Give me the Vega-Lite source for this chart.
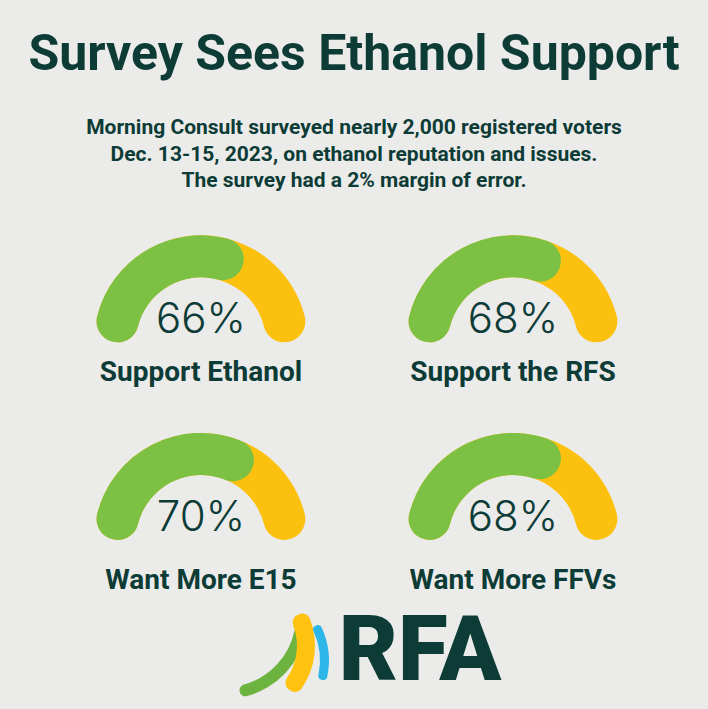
{
  "$schema": "https://vega.github.io/schema/vega-lite/v6.json",
  "width": 708,
  "height": 709,
  "autosize": {"type": "fit", "contains": "padding"},
  "padding": {"top": 30, "left": 0, "right": 0, "bottom": 0},
  "background": "#ebebea",
  "config": {"view": {"stroke": null}},
  "title": {
    "text": "Survey Sees Ethanol Support",
    "subtitle": [
      "Morning Consult surveyed nearly 2,000 registered voters",
      "Dec. 13-15, 2023, on ethanol reputation and issues.",
      "The survey had a 2% margin of error."
    ],
    "anchor": "middle",
    "font": "Roboto",
    "fontSize": 50,
    "fontWeight": "bold",
    "color": "#0d3b36",
    "subtitleFont": "Roboto",
    "subtitleFontSize": 21,
    "subtitleFontWeight": "bold",
    "subtitleColor": "#0d3b36",
    "subtitleLineHeight": 26.5,
    "subtitlePadding": 37,
    "offset": 12
  },
  "datasets": {
    "gauges": [
      {"label": "Support Ethanol", "pct": 0.66, "col": 0, "row": 0},
      {"label": "Support the RFS", "pct": 0.68, "col": 1, "row": 0},
      {"label": "Want More E15", "pct": 0.70, "col": 0, "row": 1},
      {"label": "Want More FFVs", "pct": 0.68, "col": 1, "row": 1}
    ],
    "logo": [
      {"brand": "RFA", "col": 0, "row": 2}
    ]
  },
  "resolve": {"scale": {"x": "independent", "y": "independent"}},
  "layer": [
    {
      "data": {"name": "gauges"},
      "encoding": {
        "x": {"field": "col", "type": "quantitative", "scale": {"domain": [-0.644, 1.625], "nice": false, "zero": false}, "axis": null},
        "y": {"field": "row", "type": "quantitative", "scale": {"domain": [-0.705, 1.855], "nice": false, "zero": false, "reverse": true}, "axis": null}
      },
      "layer": [
        {
          "mark": {"type": "arc", "radius": 107, "radius2": 65, "cornerRadius": 21, "theta": -1.5708, "theta2": 1.5708, "color": "#fcc10f"}
        },
        {
          "mark": {"type": "arc", "radius": 107, "radius2": 65, "cornerRadius": 21, "color": "#7cc144"},
          "encoding": {
            "theta": {"field": "pct", "type": "quantitative", "stack": null, "scale": {"domain": [0, 1], "range": [-1.5708, 1.5708], "zero": true}}
          }
        },
        {
          "mark": {"type": "text", "font": "Inter", "fontWeight": 300, "fontSize": 42, "color": "#0d3b36", "baseline": "alphabetic", "align": "center", "dy": -9},
          "encoding": {
            "text": {"field": "pct", "type": "quantitative", "format": ".0%"}
          }
        }
      ]
    },
    {
      "data": {"name": "gauges"},
      "mark": {"type": "text", "font": "Roboto", "fontWeight": "bold", "fontSize": 28, "color": "#0d3b36", "baseline": "alphabetic", "align": "center"},
      "encoding": {
        "x": {"field": "col", "type": "quantitative", "scale": {"domain": [-0.644, 1.625], "nice": false, "zero": false}, "axis": null},
        "y": {"field": "row", "type": "quantitative", "scale": {"domain": [-0.8565, 1.5789], "nice": false, "zero": false, "reverse": true}, "axis": null},
        "text": {"field": "label"}
      }
    },
    {
      "data": {"name": "logo"},
      "mark": {"type": "text", "font": "Roboto", "fontWeight": 900, "fontSize": 91, "color": "#0d3b36", "baseline": "alphabetic", "align": "center"},
      "encoding": {
        "x": {"field": "col", "type": "quantitative", "scale": {"domain": [-1.346, 0.923], "nice": false, "zero": false}, "axis": null},
        "y": {"field": "row", "type": "quantitative", "scale": {"domain": [-0.415, 2.145], "nice": false, "zero": false, "reverse": true}, "axis": null},
        "text": {"field": "brand"}
      }
    },
    {
      "data": {"name": "logo"},
      "mark": {"type": "arc", "radius": 83, "radius2": 71, "cornerRadius": 6, "theta": 1.693, "theta2": 2.95, "color": "#6db33f"},
      "encoding": {
        "x": {"field": "col", "type": "quantitative", "scale": {"domain": [-0.721, 1.548], "nice": false, "zero": false}, "axis": null},
        "y": {"field": "row", "type": "quantitative", "scale": {"domain": [-0.09, 2.47], "nice": false, "zero": false, "reverse": true}, "axis": null}
      }
    },
    {
      "data": {"name": "logo"},
      "mark": {"type": "arc", "radius": 75, "radius2": 57, "cornerRadius": 8, "theta": 1.08, "theta2": 2.3, "color": "#ffc20e"},
      "encoding": {
        "x": {"field": "col", "type": "quantitative", "scale": {"domain": [-0.769, 1.5], "nice": false, "zero": false}, "axis": null},
        "y": {"field": "row", "type": "quantitative", "scale": {"domain": [-0.24, 2.32], "nice": false, "zero": false, "reverse": true}, "axis": null}
      }
    },
    {
      "data": {"name": "logo"},
      "mark": {"type": "arc", "radius": 79, "radius2": 70, "cornerRadius": 4, "theta": 1.0821, "theta2": 1.8326, "color": "#2cb7e8"},
      "encoding": {
        "x": {"field": "col", "type": "quantitative", "scale": {"domain": [-0.801, 1.468], "nice": false, "zero": false}, "axis": null},
        "y": {"field": "row", "type": "quantitative", "scale": {"domain": [-0.315, 2.245], "nice": false, "zero": false, "reverse": true}, "axis": null}
      }
    }
  ]
}
